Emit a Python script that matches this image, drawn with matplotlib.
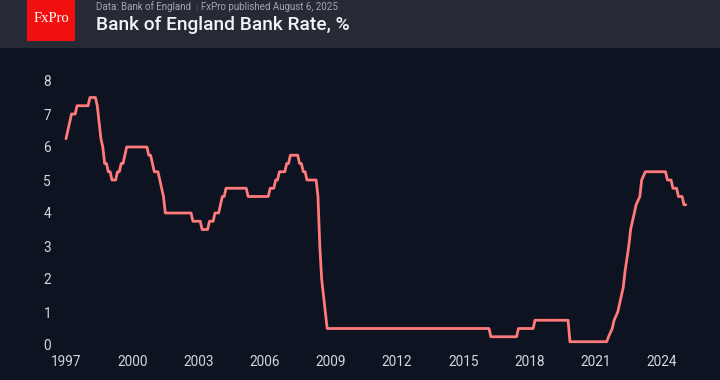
import matplotlib
matplotlib.use("Agg")
import matplotlib.pyplot as plt
from matplotlib.patches import Rectangle

# ---- data: vertices of the Bank Rate line (month, % rate) ----
months = [
    "1997-05", "1997-06", "1997-07", "1997-08", "1997-10", "1997-11", "1998-05", "1998-06",
    "1998-09", "1998-10", "1998-11", "1998-12", "1999-01", "1999-02", "1999-03", "1999-04",
    "1999-05", "1999-06", "1999-08", "1999-09", "1999-10", "1999-11", "1999-12", "2000-01",
    "2000-02", "2001-01", "2001-02", "2001-03", "2001-04", "2001-05", "2001-07", "2001-08",
    "2001-09", "2001-10", "2001-11", "2003-01", "2003-02", "2003-06", "2003-07", "2003-10",
    "2003-11", "2004-01", "2004-02", "2004-04", "2004-05", "2004-06", "2004-07", "2004-08",
    "2005-07", "2005-08", "2006-07", "2006-08", "2006-10", "2006-11", "2006-12", "2007-01",
    "2007-04", "2007-05", "2007-06", "2007-07", "2007-11", "2007-12", "2008-01", "2008-02",
    "2008-03", "2008-04", "2008-09", "2008-10", "2008-11", "2008-12", "2009-01", "2009-02",
    "2009-03", "2016-07", "2016-08", "2017-10", "2017-11", "2018-07", "2018-08", "2020-02",
    "2020-03", "2021-11", "2021-12", "2022-02", "2022-03", "2022-05",
    "2022-06", "2022-08", "2022-09", "2022-11", "2022-12",
    "2023-02", "2023-03", "2023-05", "2023-06", "2023-08", "2024-07",
    "2024-08", "2024-10", "2024-11", "2025-01", "2025-02", "2025-04", "2025-05", "2025-06",
]
rates = [
    6.25, 6.5, 6.75, 7.0, 7.0, 7.25, 7.25, 7.5,
    7.5, 7.25, 6.75, 6.25, 6.0, 5.5, 5.5, 5.25,
    5.25, 5.0, 5.0, 5.25, 5.25, 5.5, 5.5, 5.75,
    6.0, 6.0, 5.75, 5.75, 5.5, 5.25, 5.25, 5.0,
    4.75, 4.5, 4.0, 4.0, 3.75, 3.75, 3.5, 3.5,
    3.75, 3.75, 4.0, 4.0, 4.25, 4.5, 4.5, 4.75,
    4.75, 4.5, 4.5, 4.75, 4.75, 5.0, 5.0, 5.25,
    5.25, 5.5, 5.5, 5.75, 5.75, 5.5, 5.5, 5.25,
    5.25, 5.0, 5.0, 4.5, 3.0, 2.0, 1.5, 1.0,
    0.5, 0.5, 0.25, 0.25, 0.5, 0.5, 0.75, 0.75,
    0.1, 0.1, 0.25, 0.5, 0.75, 1.0,
    1.25, 1.75, 2.25, 3.0, 3.5,
    4.0, 4.25, 4.5, 5.0, 5.25, 5.25,
    5.0, 5.0, 4.75, 4.75, 4.5, 4.5, 4.25, 4.25,
]
tick_months = ["1997-05", "2000-05", "2003-05", "2006-05", "2009-05",
               "2012-05", "2015-05", "2018-05", "2021-05", "2024-05"]
tick_labels = ["1997", "2000", "2003", "2006", "2009", "2012", "2015", "2018", "2021", "2024"]
y_ticks = [0, 1, 2, 3, 4, 5, 6, 7, 8]


def to_year(m):
    y, mo = m.split("-")
    return int(y) + (int(mo) - 1) / 12.0


xs = [to_year(m) for m in months]
xt = [to_year(m) for m in tick_months]

BG = "#0d1320"
HEADER = "#262a35"
LINE = "#ff7a7a"
TICK = "#d4d7de"

W, H = 720, 380
fig = plt.figure(figsize=(W / 100, H / 100), dpi=100, facecolor=BG)

# header band
fig.patches.append(Rectangle((0, 1 - 48 / H), 1, 48 / H, transform=fig.transFigure,
                             facecolor=HEADER, edgecolor="none", zorder=0))
fig.patches.append(Rectangle((27 / W, 1 - 41 / H), 48 / W, 41 / H, transform=fig.transFigure,
                             facecolor="#f20f0f", edgecolor="none", zorder=1))
fig.text(51 / W, 1 - 19 / H, "FxPro", color="white", fontsize=10.5,
         family="Liberation Serif", ha="center", va="center", zorder=2)

t1 = fig.text(96 / W, 1 - 6.5 / H, "Data: Bank of England", color="#a3a7b0", fontsize=7.0,
              family="Roboto", ha="left", va="center")
fig.canvas.draw()
r = fig.canvas.get_renderer()
bb = t1.get_window_extent(r)
sep_x = bb.x1 + 5
fig.text(sep_x / W, 1 - 6.5 / H, "|", color="#5d616b", fontsize=6,
         family="Roboto", ha="center", va="center")
fig.text((sep_x + 5) / W, 1 - 6.5 / H, "FxPro published August 6, 2025", color="#a3a7b0",
         fontsize=7.0, family="Roboto", ha="left", va="center")
fig.text(96 / W, 1 - 24.5 / H, "Bank of England Bank Rate, %", color="#f2f3f5", fontsize=13.8,
         family="Roboto", weight="medium", ha="left", va="center")

# axes
L, R, T, B = 58, 705, 62, 349
ax = fig.add_axes([L / W, 1 - B / H, (R - L) / W, (B - T) / H], facecolor=BG)
ax.plot(xs, rates, color=LINE, lw=2.0, solid_joinstyle="round", solid_capstyle="round")

px_per_year = 22.07
x0 = xt[0] - (66 - L) / px_per_year
x1 = xt[0] + (R - 66) / px_per_year
ax.set_xlim(x0, x1)
ax.set_ylim(-(B - 345) / 33.0, (345 - T) / 33.0)

ax.set_xticks(xt)
ax.set_xticklabels(tick_labels)
ax.set_yticks(y_ticks)
ax.set_yticklabels([str(v) for v in y_ticks])
ax.tick_params(axis="both", length=0, colors=TICK, labelsize=9.8)
ax.tick_params(axis="x", pad=4)
ax.tick_params(axis="y", pad=5)
for lab in ax.get_xticklabels() + ax.get_yticklabels():
    lab.set_family("Roboto")
for s in ax.spines.values():
    s.set_visible(False)

fig.savefig("out.png", dpi=100, facecolor=BG)
